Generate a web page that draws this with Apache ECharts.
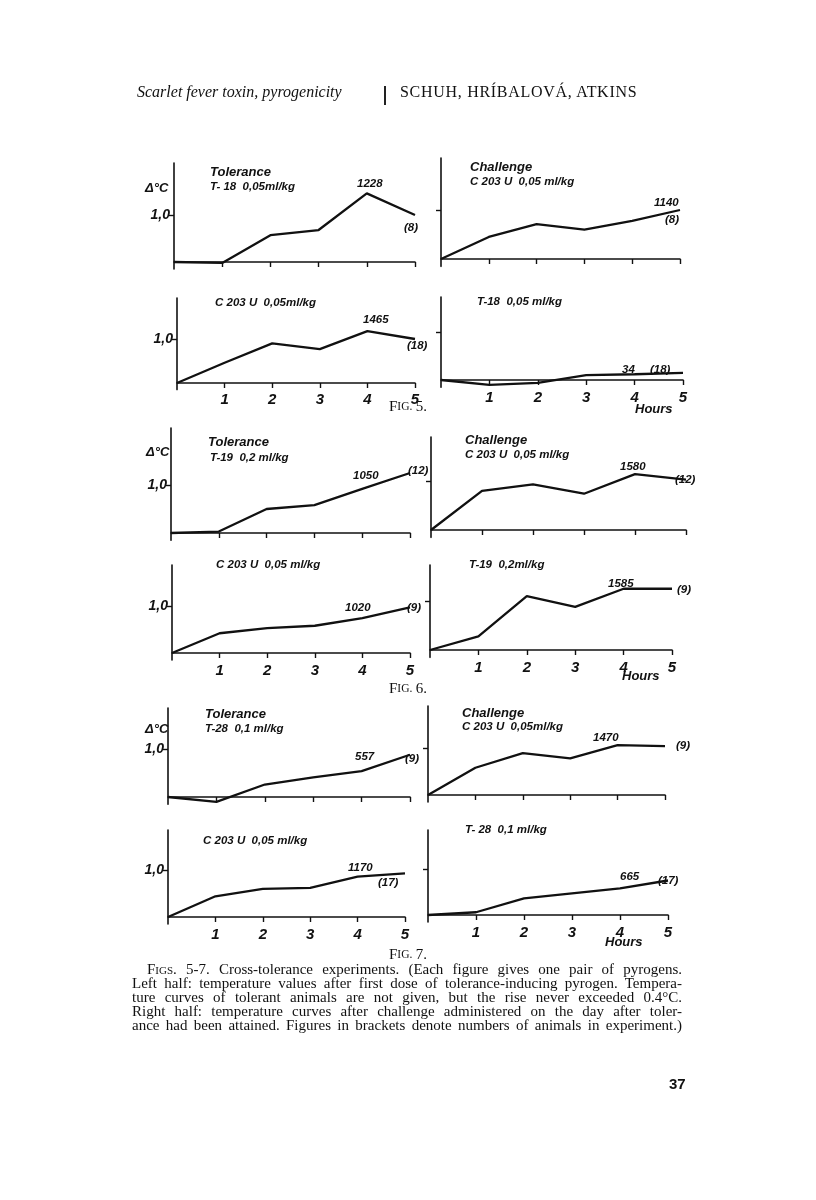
<!DOCTYPE html>
<html>
<head>
<meta charset="utf-8">
<script src="https://cdn.jsdelivr.net/npm/echarts@6/dist/echarts.min.js"></script>
<style>
  html, body { margin: 0; padding: 0; background: #fff; }
  #wrap { position: relative; width: 816px; height: 1200px; }
  #chart { position: absolute; left: 0; top: 0; width: 816px; height: 1200px; }
  .hdr { position: absolute; font-family: "Liberation Serif", serif; color: #111; }
  #caption { position: absolute; left: 132px; top: 962px; width: 550px; font-family: "Liberation Serif", serif; font-size: 15px; line-height: 14px; color: #111; }
  #caption div { text-align: justify; text-align-last: justify; white-space: nowrap; }
  .sc { font-variant: small-caps; }
</style>
</head>
<body>
<div id="wrap">
  <div id="chart"></div>
  <div class="hdr" style="left:137px; top:83px; font-size:16px; font-style:italic;">Scarlet fever toxin, pyrogenicity</div>
  <div class="hdr" style="left:384px; top:86px; width:2px; height:19px; background:#222;"></div>
  <div class="hdr" style="left:400px; top:83px; font-size:16px; letter-spacing:0.7px;">SCHUH, HRÍBALOVÁ, ATKINS</div>
  <div id="caption">
    <div style="padding-left:15px;"><span class="sc">Figs</span>. 5-7. Cross-tolerance experiments. (Each figure gives one pair of pyrogens.</div>
    <div>Left half: temperature values after first dose of tolerance-inducing pyrogen. Tempera-</div>
    <div>ture curves of tolerant animals are not given, but the rise never exceeded 0.4°C.</div>
    <div>Right half: temperature curves after challenge administered on the day after toler-</div>
    <div>ance had been attained. Figures in brackets denote numbers of animals in experiment.)</div>
  </div>
  <div class="hdr" style="left:669px; top:1075px; font-family:'Liberation Sans',sans-serif; font-weight:bold; font-size:15px;">37</div>
</div>
<script>
// ---- data (Δ°C by hour) ----
const hours = [0, 1, 2, 3, 4, 5];
const xTickLabels = ['1', '2', '3', '4', '5'];
const yTickLabel = '1,0';

const fig5TolT18   = [0, -0.02, 0.57, 0.68, 1.46, 1.0];
const fig5ChalC203 = [0, 0.45, 0.71, 0.60, 0.78, 1.0];
const fig5TolC203  = [0, 0.46, 0.90, 0.77, 1.18, 1.0];
const fig5ChalT18  = [0, -0.10, -0.06, 0.10, 0.12, 0.15];

const fig6TolT19   = [0, 0.03, 0.50, 0.58, 0.92, 1.25];
const fig6ChalC203 = [0, 0.80, 0.93, 0.74, 1.14, 1.03];
const fig6TolC203  = [0, 0.42, 0.53, 0.58, 0.74, 0.97];
const fig6ChalT19  = [0, 0.28, 1.10, 0.88, 1.25, 1.25];

const fig7TolT28   = [0, -0.10, 0.26, 0.41, 0.54, 0.88];
const fig7ChalC203 = [0, 0.58, 0.89, 0.78, 1.06, 1.04];
const fig7TolC203  = [0, 0.44, 0.60, 0.62, 0.86, 0.93];
const fig7ChalT28  = [0, 0.06, 0.36, 0.47, 0.58, 0.75];

// ---- panel layout: x0,x5 (px of hour 0 and 5), base (px of 0), one (px of 1.0), top ----
const panels = [
  { d: fig5TolT18,   x0: 174, x5: 415, base: 262, one: 215, top: 163, yLab: true,  xLab: false },
  { d: fig5ChalC203, x0: 441, x5: 680, base: 259, one: 210, top: 158, yLab: false, xLab: false },
  { d: fig5TolC203,  x0: 177, x5: 415, base: 383, one: 339, top: 298, yLab: true,  xLab: true },
  { d: fig5ChalT18,  x0: 441, x5: 683, base: 380, one: 332, top: 297, yLab: false, xLab: true },
  { d: fig6TolT19,   x0: 171, x5: 410, base: 533, one: 485, top: 428, yLab: true,  xLab: false },
  { d: fig6ChalC203, x0: 431, x5: 686, base: 530, one: 481, top: 437, yLab: false, xLab: false },
  { d: fig6TolC203,  x0: 172, x5: 410, base: 653, one: 606, top: 565, yLab: true,  xLab: true },
  { d: fig6ChalT19,  x0: 430, x5: 672, base: 650, one: 601, top: 565, yLab: false, xLab: true },
  { d: fig7TolT28,   x0: 168, x5: 410, base: 797, one: 749, top: 708, yLab: true,  xLab: false },
  { d: fig7ChalC203, x0: 428, x5: 665, base: 795, one: 748, top: 706, yLab: false, xLab: false },
  { d: fig7TolC203,  x0: 168, x5: 405, base: 917, one: 870, top: 830, yLab: true,  xLab: true },
  { d: fig7ChalT28,  x0: 428, x5: 668, base: 915, one: 869, top: 830, yLab: false, xLab: true }
];

const YMIN = -0.15;
const INK = '#111';
const FAM = '"Liberation Sans", sans-serif';
const LET = 'italic bold 13px ' + FAM;
const LETS = 'italic bold 11.5px ' + FAM;

const grid = [], xAxis = [], yAxis = [], series = [];
panels.forEach((p, i) => {
  const u = p.base - p.one;
  const ymax = (p.base - p.top) / u;
  grid.push({ left: p.x0, top: p.top, width: p.x5 - p.x0, height: (p.base - p.top) + (-YMIN) * u, containLabel: false });
  xAxis.push({
    type: 'value', gridIndex: i, min: 0, max: 5,
    axisLine: { onZero: true, lineStyle: { color: INK, width: 1.6 } },
    axisTick: { show: true, customValues: [1, 2, 3, 4, 5], length: 5, lineStyle: { color: INK, width: 1.4 } },
    axisLabel: { show: p.xLab, customValues: [1, 2, 3, 4, 5], formatter: v => xTickLabels[v - 1], color: INK,
      fontStyle: 'italic', fontWeight: 'bold', fontSize: 15, fontFamily: 'Liberation Sans', margin: 3 },
    splitLine: { show: false }
  });
  yAxis.push({
    type: 'value', gridIndex: i, min: YMIN, max: ymax,
    axisLine: { show: true, lineStyle: { color: INK, width: 1.6 } },
    axisTick: { show: true, customValues: [1], length: 5, lineStyle: { color: INK, width: 1.4 } },
    axisLabel: { show: p.yLab, customValues: [1], formatter: () => yTickLabel, color: INK,
      fontStyle: 'italic', fontWeight: 'bold', fontSize: 14, fontFamily: 'Liberation Sans', margin: 4 },
    splitLine: { show: false }
  });
  series.push({
    type: 'line', xAxisIndex: i, yAxisIndex: i,
    data: hours.map((h, k) => [h, p.d[k]]),
    symbol: 'none', clip: false,
    lineStyle: { color: INK, width: 2.3 }
  });
});

function t(x, y, text, font, align) {
  return { type: 'text', x: x, y: y, style: { text: text, font: font, fill: INK, textAlign: align || 'left', textVerticalAlign: 'middle', align: align || 'left', verticalAlign: 'middle' } };
}
function figLabel(x, y, n) {
  return { type: 'text', x: x, y: y, style: {
    text: '{a|F}{b|IG.} {a|' + n + '.}', fill: INK, align: 'center', textAlign: 'center', verticalAlign: 'middle', textVerticalAlign: 'middle',
    rich: { a: { fontFamily: 'Liberation Serif', fontSize: 15, fill: INK, color: INK }, b: { fontFamily: 'Liberation Serif', fontSize: 11.5, fill: INK, color: INK } }
  } };
}
const graphic = [
  // Fig 5
  t(145, 188, 'Δ°C', LET), t(210, 172, 'Tolerance', LET), t(210, 187, 'T- 18  0,05ml/kg', LETS),
  t(357, 184, '1228', LETS), t(404, 228, '(8)', LETS),
  t(470, 167, 'Challenge', LET), t(470, 182, 'C 203 U  0,05 ml/kg', LETS),
  t(654, 203, '1140', LETS), t(665, 220, '(8)', LETS),
  t(215, 303, 'C 203 U  0,05ml/kg', LETS), t(363, 320, '1465', LETS), t(407, 346, '(18)', LETS),
  t(477, 302, 'T-18  0,05 ml/kg', LETS), t(622, 370, '34', LETS), t(650, 370, '(18)', LETS),
  t(635, 409, 'Hours', LET), figLabel(408, 407, 5),
  // Fig 6
  t(146, 452, 'Δ°C', LET), t(208, 442, 'Tolerance', LET), t(210, 458, 'T-19  0,2 ml/kg', LETS),
  t(353, 476, '1050', LETS), t(408, 471, '(12)', LETS),
  t(465, 440, 'Challenge', LET), t(465, 455, 'C 203 U  0,05 ml/kg', LETS),
  t(620, 467, '1580', LETS), t(675, 480, '(12)', LETS),
  t(216, 565, 'C 203 U  0,05 ml/kg', LETS), t(345, 608, '1020', LETS), t(407, 608, '(9)', LETS),
  t(469, 565, 'T-19  0,2ml/kg', LETS), t(608, 584, '1585', LETS), t(677, 590, '(9)', LETS),
  t(622, 676, 'Hours', LET), figLabel(408, 689, 6),
  // Fig 7
  t(145, 729, 'Δ°C', LET), t(205, 714, 'Tolerance', LET), t(205, 729, 'T-28  0,1 ml/kg', LETS),
  t(355, 757, '557', LETS), t(405, 759, '(9)', LETS),
  t(462, 713, 'Challenge', LET), t(462, 727, 'C 203 U  0,05ml/kg', LETS),
  t(593, 738, '1470', LETS), t(676, 746, '(9)', LETS),
  t(203, 841, 'C 203 U  0,05 ml/kg', LETS), t(348, 868, '1170', LETS), t(378, 883, '(17)', LETS),
  t(465, 830, 'T- 28  0,1 ml/kg', LETS), t(620, 877, '665', LETS), t(658, 881, '(17)', LETS),
  t(605, 942, 'Hours', LET), figLabel(408, 955, 7)
];

const chart = echarts.init(document.getElementById('chart'), null, { renderer: 'canvas' });
chart.setOption({
  animation: false,
  backgroundColor: '#fff',
  grid: grid, xAxis: xAxis, yAxis: yAxis, series: series, graphic: graphic
});
</script>
</body>
</html>
